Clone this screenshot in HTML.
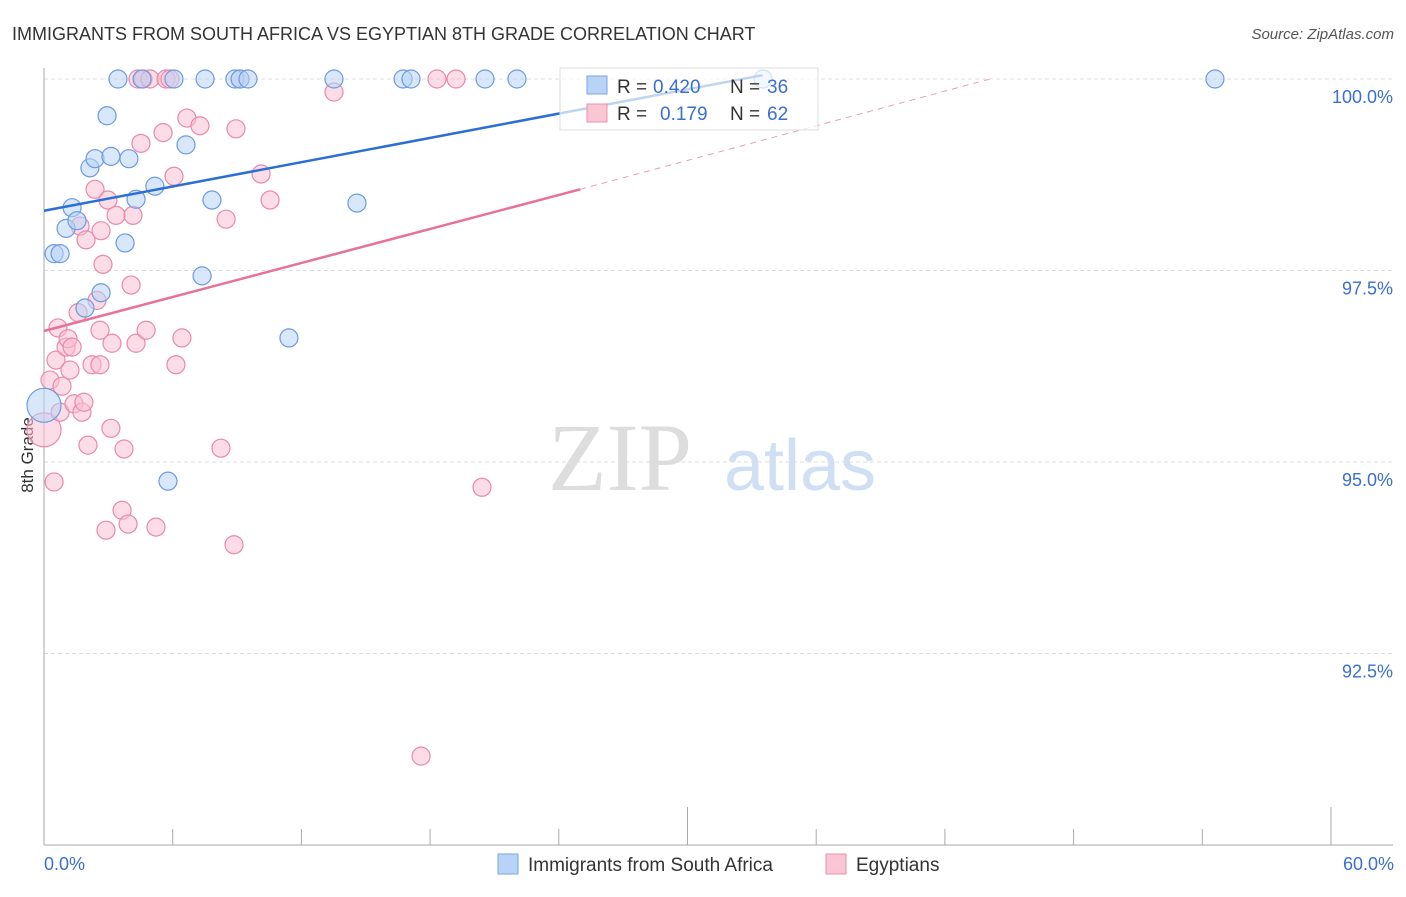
<!DOCTYPE html>
<html><head><meta charset="utf-8"><style>
body{margin:0;background:#fff;font-family:"Liberation Sans",sans-serif}
</style></head><body>
<svg id="c" width="1406" height="892" xmlns="http://www.w3.org/2000/svg">
<text x="12" y="40" font-size="18" fill="#333">IMMIGRANTS FROM SOUTH AFRICA VS EGYPTIAN 8TH GRADE CORRELATION CHART</text>
<text x="1394" y="39" font-size="15" fill="#555" font-style="italic" text-anchor="end">Source: ZipAtlas.com</text>
<text x="620" y="490" font-size="96" fill="#ddd" font-family="Liberation Serif" text-anchor="middle">ZIP</text>
<text x="800" y="490" font-size="72" fill="#cfe0f5" text-anchor="middle">atlas</text>
<text transform="translate(33,455) rotate(-90)" font-size="17" fill="#333" text-anchor="middle">8th Grade</text>
<g id="grid"></g><g id="pts"></g><g id="lines"></g>
<g>
<rect x="560" y="68" width="258" height="62" fill="#fff" fill-opacity="0.7" stroke="#ddd"/>
<rect x="587" y="76" width="20" height="18" fill="#b8d3f5" stroke="#7aa6e0"/>
<text x="617" y="93" font-size="19" fill="#333">R =</text>
<text x="653" y="93" font-size="19" fill="#3a6fd0">0.420</text>
<text x="730" y="93" font-size="19" fill="#333">N =</text>
<text x="767" y="93" font-size="19" fill="#3a6fd0">36</text>
<rect x="587" y="104" width="20" height="18" fill="#fac5d5" stroke="#e890ab"/>
<text x="617" y="120" font-size="19" fill="#333">R =</text>
<text x="660" y="120" font-size="19" fill="#3a6fd0">0.179</text>
<text x="730" y="120" font-size="19" fill="#333">N =</text>
<text x="767" y="120" font-size="19" fill="#3a6fd0">62</text>
</g>
<g>
<rect x="498" y="854" width="20" height="20" fill="#b8d3f5" stroke="#7aa6e0"/>
<text x="528" y="871" font-size="19" fill="#333">Immigrants from South Africa</text>
<rect x="826" y="854" width="20" height="20" fill="#fac5d5" stroke="#e890ab"/>
<text x="856" y="871" font-size="19" fill="#333">Egyptians</text>
</g>
</svg>
<script>
const blueX=[0,0.47,0.75,1.03,1.31,1.54,1.91,2.14,2.38,2.66,2.94,3.12,3.45,3.78,3.96,4.29,4.57,5.17,6.06,6.62,7.37,7.51,7.83,8.90,9.14,9.51,11.42,13.52,14.59,16.74,17.11,20.56,22.05,5.78,33.52,54.59];
const blueY=[95.74,97.72,97.72,98.05,98.32,98.15,97.01,98.84,98.96,97.21,99.52,98.99,100,97.86,98.96,98.43,100,98.60,100,99.14,97.43,100,98.42,100,100,100,96.62,100,98.38,100,100,100,100,94.75,100,100];
const pinkX=[0,0.28,0.47,0.56,0.65,0.75,0.84,1.03,1.12,1.21,1.31,1.40,1.59,1.68,1.77,1.86,1.96,2.05,2.24,2.38,2.47,2.61,2.66,2.75,2.89,2.98,3.12,3.17,3.36,3.64,3.73,3.92,4.06,4.15,4.29,4.38,4.52,4.62,4.76,4.94,5.22,5.55,5.69,5.87,6.06,6.15,6.43,6.66,7.27,8.25,8.49,8.86,8.95,9.14,10.12,10.54,13.52,17.58,18.32,19.21,20.42,2.61];
const pinkY=[95.42,96.07,94.74,96.33,96.75,95.65,95.99,96.50,96.61,96.20,96.50,95.76,96.95,98.08,95.65,95.78,97.90,95.22,96.27,98.56,97.11,96.27,98.02,97.58,94.11,98.42,95.44,96.55,98.22,94.37,95.17,94.19,97.31,98.22,96.55,100,99.16,100,96.72,100,94.15,99.30,100,100,98.73,96.27,96.62,99.49,99.39,95.18,98.17,93.92,99.35,100,98.76,98.42,99.83,91.16,100,100,94.67,96.72];
const yTicks=[100,97.5,95,92.5];
const yTickLabels=["100.0%","97.5%","95.0%","92.5%"];
const blueTrend=[[0,98.28],[33.5,100.05]];
const pinkTrend=[[0,96.71],[25,98.56]];
const pinkDash=[[25,98.56],[44.1,100]];
const NS="http://www.w3.org/2000/svg";
const X=v=>44+v/60*1287, Y=v=>79+(100-v)*76.6;
function mk(t,a,p){const e=document.createElementNS(NS,t);for(const k in a)e.setAttribute(k,a[k]);p.appendChild(e);return e;}
const g=document.getElementById('grid');
yTicks.forEach((t,i)=>{
 const l=mk('line',{x1:44,x2:1393,y1:Y(t),y2:Y(t),stroke:'#ddd','stroke-dasharray':'4,3'},g);
 
 
 const tx=mk('text',{x:1393,y:Y(t)+24,'font-size':18,fill:'#3a6fd0','text-anchor':'end'},g);
 tx.textContent=yTickLabels[i];
 
 
});
mk('line',{x1:44,x2:44,y1:68,y2:845,stroke:'#aaa'},g);
mk('line',{x1:44,x2:1393,y1:845,y2:845,stroke:'#aaa'},g);
for(let i=0;i<=10;i++){const x=X(i*6);mk('line',{x1:x,x2:x,y1:(i%5==0)?807:829,y2:845,stroke:'#aaa'},g);}
let t0=mk('text',{x:44,y:870,'font-size':18,fill:'#3a6fd0'},g);t0.textContent='0.0%';

let t1=mk('text',{x:1394,y:870,'font-size':18,fill:'#3a6fd0','text-anchor':'end'},g);t1.textContent='60.0%';

const P=document.getElementById('pts');
function dots(xs,ys,fill,stroke,name){xs.forEach((x,i)=>{
 const c=mk('circle',{cx:X(x),cy:Y(ys[i]),r:(x===0)?17:9,fill:fill,'fill-opacity':0.55,stroke:stroke,'stroke-width':1.2},P);
 
 
});}
dots(pinkX,pinkY,'#f9c0d2','#e88aa8','egyptians-point');
dots(blueX,blueY,'#b8d3f5','#6b9be0','south-africa-point');
const L=document.getElementById('lines');
function ln(a,col,w,dash,name,op){const e=mk('line',{x1:X(a[0][0]),y1:Y(a[0][1]),x2:X(a[1][0]),y2:Y(a[1][1]),stroke:col,'stroke-width':w,'stroke-opacity':op},L);if(dash)e.setAttribute('stroke-dasharray',dash);
 }
ln(blueTrend,'#2b6fd6',2.5,null,'south-africa-trendline',1);
ln(pinkTrend,'#e8719a',2.5,null,'egyptians-trendline',1);
ln(pinkDash,'#e8a0b8',1,'6,5','egyptians-trend-extension',1);
</script>
</body></html>
